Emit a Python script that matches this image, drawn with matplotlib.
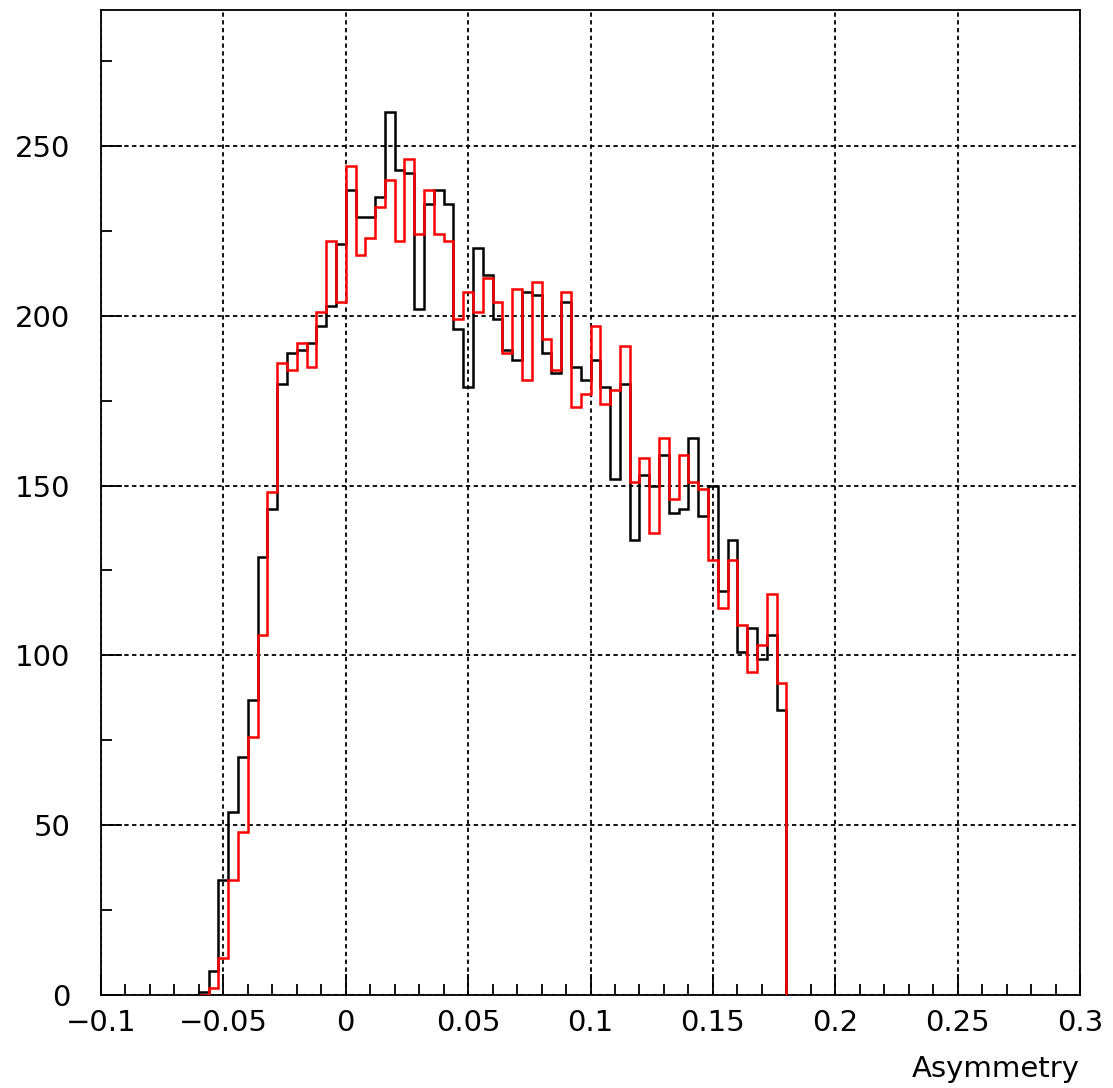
import numpy as np
import matplotlib
matplotlib.use("Agg")
import matplotlib.pyplot as plt
from matplotlib.ticker import MultipleLocator

# Asymmetry histograms, 100 bins over [-0.1, 0.3]; only bins -0.06..0.18 are filled
BIN_WIDTH = 0.004
X_FIRST = -0.06
X_LAST = 0.18

black_counts = [1, 7, 34, 54, 70, 87, 129, 143, 180, 189,
                190, 192, 197, 203, 221, 237, 229, 229, 235, 260,
                243, 242, 202, 233, 237, 233, 196, 179, 220, 212,
                199, 190, 187, 207, 206, 189, 183, 204, 185, 181,
                187, 179, 152, 180, 134, 153, 150, 159, 142, 143,
                164, 141, 150, 119, 134, 101, 108, 99, 106, 84]

red_counts = [0, 2, 11, 34, 48, 76, 106, 148, 186, 184,
              192, 185, 201, 222, 204, 244, 218, 223, 232, 240,
              222, 246, 224, 237, 224, 222, 199, 207, 201, 211,
              204, 189, 208, 181, 210, 193, 184, 207, 173, 177,
              197, 174, 178, 191, 151, 158, 136, 164, 146, 159,
              151, 149, 128, 114, 128, 109, 95, 103, 118, 92]

edges = np.linspace(X_FIRST, X_LAST, len(black_counts) + 1)

fig = plt.figure(figsize=(11.13, 10.88), dpi=100)
ax = fig.add_axes([101 / 1113, 93 / 1088, 979 / 1113, 985 / 1088])

ax.stairs(black_counts, edges, color="black", linewidth=1.8, baseline=0, zorder=3)
ax.stairs(red_counts, edges, color="#ff0000", linewidth=1.8, baseline=0, zorder=4)

ax.set_xlim(-0.1, 0.3)
ax.set_ylim(0, 290)

ax.xaxis.set_major_locator(MultipleLocator(0.05))
ax.xaxis.set_minor_locator(MultipleLocator(0.01))
ax.yaxis.set_major_locator(MultipleLocator(50))
ax.yaxis.set_minor_locator(MultipleLocator(25))

ax.grid(True, which="major", color="black", linewidth=1.3,
        linestyle=(0, (2.4, 1.9)), zorder=1)

for s in ax.spines.values():
    s.set_linewidth(1.3)

ax.tick_params(axis="both", which="both", direction="in", width=1.3,
               top=False, right=False, labelsize=21)
ax.tick_params(axis="x", which="major", length=15, pad=10)
ax.tick_params(axis="x", which="minor", length=8)
ax.tick_params(axis="y", which="major", length=15, pad=22)
ax.tick_params(axis="y", which="minor", length=8)


def fmt(v):
    s = f"{v:g}"
    return s.replace("-", "\u2212")


ax.set_xticks(np.arange(-0.1, 0.3001, 0.05))
ax.set_xticklabels([fmt(round(v, 2)) for v in np.arange(-0.1, 0.3001, 0.05)])
ax.set_yticks(np.arange(0, 251, 50))
ax.set_yticklabels([str(v) for v in range(0, 251, 50)])

fig.text(1080 / 1113, (1088 - 1055) / 1088, "Asymmetry", ha="right", va="top",
         fontsize=21)

fig.savefig("out.png", dpi=100)
